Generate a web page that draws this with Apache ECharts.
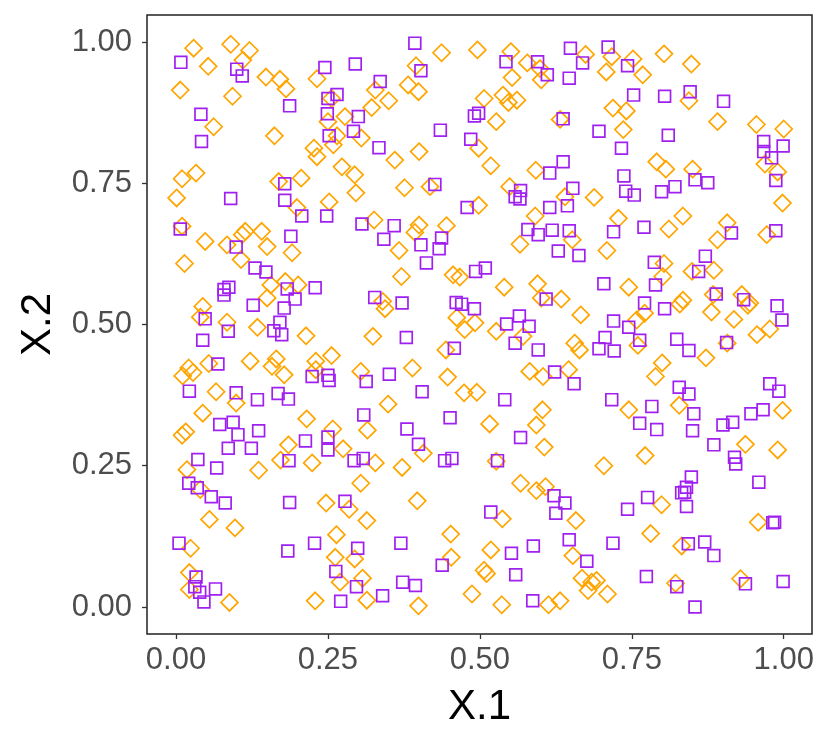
<!DOCTYPE html>
<html>
<head>
<meta charset="utf-8">
<script src="https://cdn.jsdelivr.net/npm/echarts@6/dist/echarts.min.js"></script>
<style>
  html, body { margin: 0; padding: 0; background: #fff; }
  #chart { width: 830px; height: 747px; }
</style>
</head>
<body>
<div id="chart"></div>
<script>
// values: [X.1, X.2]
var diamondPoints = [
  [0.029,0.989],[0.090,0.996],[0.121,0.985],[0.053,0.957],[0.110,0.968],[0.148,0.938],[0.171,0.934],[0.181,0.917],[0.007,0.915],[0.093,0.904],[0.062,0.850],[0.162,0.834],[0.227,0.812],[0.033,0.768],[0.010,0.758],[0.169,0.753],[0.206,0.759],[0.001,0.724],[0.199,0.707],[0.010,0.674],
  [0.437,0.981],[0.496,0.986],[0.395,0.958],[0.232,0.935],[0.382,0.924],[0.399,0.912],[0.328,0.915],[0.350,0.896],[0.322,0.884],[0.256,0.900],[0.278,0.868],[0.250,0.859],[0.265,0.834],[0.259,0.818],[0.305,0.830],[0.232,0.797],[0.273,0.779],[0.294,0.765],[0.296,0.733],[0.360,0.791],[0.400,0.806],[0.376,0.742],[0.418,0.744],[0.498,0.812],[0.252,0.717],[0.498,0.711],[0.326,0.685],[0.400,0.676],[0.445,0.675],[0.507,0.900],
  [0.551,0.983],[0.674,0.978],[0.717,0.974],[0.752,0.970],[0.578,0.963],[0.599,0.953],[0.601,0.933],[0.553,0.937],[0.708,0.947],[0.768,0.942],[0.538,0.906],[0.547,0.893],[0.561,0.897],[0.527,0.859],[0.632,0.863],[0.719,0.883],[0.741,0.878],[0.736,0.845],[0.518,0.781],[0.592,0.773],[0.549,0.744],[0.640,0.726],[0.688,0.725],[0.591,0.692],[0.728,0.688],
  [0.803,0.979],[0.848,0.961],[0.844,0.896],[0.891,0.859],[0.955,0.854],[1.000,0.846],[0.791,0.788],[0.806,0.775],[0.850,0.775],[0.969,0.784],[0.990,0.770],[0.998,0.715],[0.834,0.692],[0.907,0.680],[0.811,0.669],
  [0.048,0.647],[0.084,0.641],[0.109,0.659],[0.114,0.665],[0.141,0.665],[0.150,0.638],[0.191,0.627],[0.014,0.608],[0.107,0.615],[0.156,0.570],[0.180,0.576],[0.201,0.570],[0.150,0.547],[0.044,0.532],[0.040,0.513],[0.084,0.504],[0.134,0.495],[0.214,0.480],[0.054,0.431],[0.021,0.423],[0.011,0.409],[0.028,0.415],[0.122,0.435],[0.165,0.439],[0.158,0.426],[0.178,0.411],[0.230,0.435],[0.066,0.381],[0.099,0.361],[0.044,0.343],[0.215,0.333],[0.010,0.304],[0.016,0.310],
  [0.393,0.663],[0.367,0.631],[0.371,0.585],[0.456,0.588],[0.467,0.584],[0.340,0.541],[0.344,0.528],[0.462,0.512],[0.475,0.491],[0.492,0.503],[0.324,0.479],[0.444,0.455],[0.256,0.445],[0.230,0.420],[0.304,0.417],[0.389,0.423],[0.447,0.407],[0.474,0.379],[0.495,0.380],[0.349,0.359],[0.258,0.315],[0.315,0.313],
  [0.566,0.642],[0.652,0.650],[0.709,0.631],[0.540,0.566],[0.595,0.572],[0.601,0.547],[0.634,0.545],[0.666,0.517],[0.745,0.566],[0.771,0.520],[0.758,0.508],[0.527,0.488],[0.571,0.479],[0.656,0.467],[0.664,0.455],[0.760,0.463],[0.582,0.417],[0.604,0.408],[0.646,0.420],[0.603,0.349],[0.745,0.349],[0.516,0.324],[0.593,0.322],
  [0.891,0.650],[0.972,0.659],[0.803,0.608],[0.801,0.585],[0.849,0.594],[0.885,0.596],[0.884,0.553],[0.931,0.553],[0.944,0.538],[0.941,0.534],[0.834,0.543],[0.829,0.536],[0.881,0.522],[0.918,0.509],[0.956,0.482],[0.977,0.492],[0.907,0.467],[0.872,0.441],[0.800,0.432],[0.789,0.408],[0.828,0.357],[0.998,0.348],
  [0.185,0.287],[0.172,0.260],[0.224,0.255],[0.136,0.242],[0.018,0.243],[0.040,0.208],[0.055,0.155],[0.097,0.140],[0.024,0.104],[0.022,0.061],[0.022,0.031],[0.088,0.008],[0.229,0.011],
  [0.275,0.280],[0.328,0.255],[0.372,0.247],[0.407,0.272],[0.304,0.219],[0.247,0.184],[0.285,0.173],[0.314,0.153],[0.397,0.188],[0.264,0.128],[0.262,0.088],[0.294,0.085],[0.270,0.044],[0.307,0.051],[0.314,0.012],[0.399,0.002],[0.452,0.129],[0.453,0.088],[0.487,0.023],[0.507,0.065],[0.511,0.059],
  [0.606,0.283],[0.527,0.258],[0.704,0.250],[0.772,0.268],[0.567,0.219],[0.593,0.206],[0.608,0.213],[0.537,0.156],[0.658,0.153],[0.518,0.101],[0.653,0.091],[0.668,0.051],[0.684,0.044],[0.692,0.047],[0.678,0.029],[0.710,0.023],[0.536,0.004],[0.613,0.004],[0.632,0.011],[0.781,0.130],
  [0.937,0.288],[0.990,0.278],[0.799,0.181],[0.958,0.150],[0.832,0.108],[0.822,0.042],[0.929,0.050]
]

var squarePoints = [
  [0.008,0.964],[0.100,0.952],[0.109,0.940],[0.187,0.887],[0.041,0.872],[0.042,0.824],[0.179,0.749],[0.179,0.720],[0.090,0.723],[0.207,0.692],[0.007,0.669],
  [0.393,0.998],[0.245,0.955],[0.295,0.961],[0.403,0.949],[0.336,0.930],[0.265,0.907],[0.250,0.900],[0.249,0.873],[0.300,0.868],[0.292,0.842],[0.252,0.834],[0.435,0.844],[0.334,0.813],[0.491,0.869],[0.498,0.874],[0.485,0.828],[0.426,0.748],[0.248,0.692],[0.479,0.707],[0.306,0.678],[0.359,0.675],
  [0.649,0.989],[0.711,0.991],[0.543,0.965],[0.595,0.965],[0.669,0.963],[0.611,0.942],[0.647,0.936],[0.743,0.958],[0.753,0.906],[0.637,0.864],[0.696,0.842],[0.733,0.812],[0.637,0.788],[0.615,0.768],[0.737,0.763],[0.653,0.741],[0.740,0.736],[0.754,0.729],[0.567,0.737],[0.558,0.726],[0.566,0.722],[0.615,0.707],[0.644,0.710],[0.770,0.672],
  [0.804,0.904],[0.846,0.912],[0.901,0.895],[0.810,0.835],[0.967,0.824],[0.967,0.806],[0.999,0.816],[0.980,0.795],[0.987,0.755],[0.854,0.756],[0.875,0.751],[0.821,0.744],[0.799,0.735],[0.987,0.666],
  [0.189,0.656],[0.099,0.637],[0.130,0.600],[0.148,0.593],[0.087,0.566],[0.079,0.562],[0.079,0.552],[0.183,0.563],[0.196,0.545],[0.229,0.565],[0.127,0.534],[0.178,0.529],[0.048,0.510],[0.171,0.504],[0.086,0.488],[0.161,0.489],[0.174,0.482],[0.044,0.472],[0.069,0.430],[0.224,0.408],[0.022,0.382],[0.099,0.379],[0.134,0.367],[0.168,0.378],[0.185,0.368],[0.072,0.323],[0.094,0.327],[0.102,0.305],[0.136,0.312],
  [0.342,0.651],[0.403,0.641],[0.437,0.653],[0.433,0.634],[0.412,0.609],[0.493,0.594],[0.509,0.600],[0.327,0.548],[0.372,0.538],[0.461,0.539],[0.470,0.536],[0.491,0.528],[0.379,0.477],[0.458,0.458],[0.250,0.410],[0.252,0.401],[0.351,0.412],[0.313,0.399],[0.405,0.381],[0.309,0.340],[0.451,0.335],[0.380,0.315],
  [0.579,0.668],[0.596,0.659],[0.619,0.667],[0.647,0.666],[0.720,0.664],[0.629,0.630],[0.663,0.622],[0.704,0.572],[0.609,0.545],[0.771,0.538],[0.544,0.501],[0.565,0.515],[0.581,0.497],[0.558,0.467],[0.596,0.455],[0.720,0.506],[0.745,0.495],[0.706,0.477],[0.696,0.457],[0.721,0.453],[0.763,0.472],[0.623,0.416],[0.655,0.395],[0.541,0.367],[0.717,0.367],[0.763,0.325],
  [0.914,0.662],[0.871,0.621],[0.787,0.610],[0.860,0.594],[0.789,0.570],[0.889,0.554],[0.934,0.544],[0.804,0.528],[0.989,0.533],[0.997,0.508],[0.824,0.474],[0.844,0.454],[0.906,0.468],[0.977,0.395],[0.992,0.382],[0.828,0.389],[0.844,0.377],[0.783,0.355],[0.852,0.342],[0.946,0.342],[0.966,0.349],[0.900,0.322],[0.916,0.327],[0.791,0.314],[0.850,0.312],
  [0.124,0.281],[0.086,0.281],[0.036,0.261],[0.067,0.246],[0.213,0.294],[0.186,0.259],[0.021,0.219],[0.035,0.211],[0.058,0.195],[0.081,0.184],[0.187,0.185],[0.005,0.113],[0.184,0.099],[0.228,0.113],[0.033,0.053],[0.031,0.036],[0.039,0.026],[0.065,0.032],[0.046,0.009],
  [0.250,0.301],[0.250,0.278],[0.399,0.288],[0.293,0.259],[0.308,0.263],[0.442,0.259],[0.454,0.263],[0.278,0.187],[0.299,0.104],[0.370,0.113],[0.438,0.074],[0.263,0.063],[0.297,0.036],[0.373,0.044],[0.394,0.038],[0.340,0.020],[0.271,0.010],
  [0.567,0.300],[0.529,0.259],[0.622,0.197],[0.640,0.184],[0.625,0.166],[0.743,0.173],[0.776,0.194],[0.518,0.168],[0.588,0.108],[0.552,0.095],[0.647,0.119],[0.719,0.113],[0.676,0.081],[0.559,0.057],[0.774,0.054],[0.587,0.011],
  [0.885,0.287],[0.919,0.265],[0.921,0.253],[0.959,0.221],[0.848,0.230],[0.840,0.212],[0.832,0.202],[0.837,0.203],[0.840,0.178],[0.982,0.149],[0.985,0.150],[0.843,0.112],[0.870,0.115],[0.885,0.091],[0.824,0.036],[0.937,0.041],[0.999,0.045],[0.854,0.000]
]

var tickValues = [0, 0.25, 0.5, 0.75, 1]

var myChart = echarts.init(document.getElementById('chart'), null, { renderer: 'canvas' })

function axisOf(name, gap, labelMargin) {
    return {
        type: 'value',
        min: -0.0477,
        max: 1.0465,
        name: name,
        nameLocation: 'middle',
        nameGap: gap,
        nameTextStyle: { color: '#000', fontSize: 42, fontFamily: 'Liberation Sans' },
        axisLine: { show: false, onZero: false },
        splitLine: { show: false },
        axisTick: { show: true, length: 5, customValues: tickValues, lineStyle: { color: '#333', width: 1.3 } },
        axisLabel: {
            customValues: tickValues,
            margin: labelMargin,
            color: '#4D4D4D',
            fontSize: 31,
            fontFamily: 'Liberation Sans',
            formatter: function (v) { return v.toFixed(2) }
        }
    }
}

var xAxis = axisOf('X.1', 52, 11)
var yAxis = axisOf('X.2', 88, 15)
yAxis.min = -0.0478
yAxis.max = 1.0478

myChart.setOption({
    animation: false,
    backgroundColor: '#fff',
    grid: {
        left: 147, right: 18, top: 15, bottom: 113,
        show: true, borderColor: '#222', borderWidth: 1.5, backgroundColor: '#fff'
    },
    xAxis: xAxis,
    yAxis: yAxis,
    series: [{
        name: 'diamond',
        type: 'scatter',
        symbol: 'diamond',
        symbolSize: 17,
        data: diamondPoints,
        itemStyle: { color: 'rgba(0,0,0,0)', borderColor: '#FFA500', borderWidth: 1.7, opacity: 1 }
    }, {
        name: 'square',
        type: 'scatter',
        symbol: 'rect',
        symbolSize: 11.8,
        data: squarePoints,
        itemStyle: { color: 'rgba(0,0,0,0)', borderColor: '#A020F0', borderWidth: 1.7, opacity: 1 }
    }]
})
</script>
</body>
</html>
